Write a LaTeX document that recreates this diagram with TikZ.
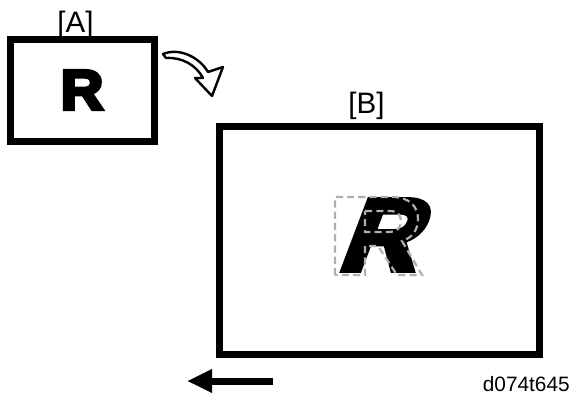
\documentclass[tikz,border=0pt]{standalone}
\usepackage{fontspec}
\setmainfont{Liberation Sans}
\newfontfamily\heavyfont{Liberation Sans}[BoldFeatures={FakeBold=6}]
\usepackage{tikz}
\usetikzlibrary{arrows.meta}
\definecolor{ghostgray}{RGB}{175, 175, 175}

\tikzset{
    framebox/.style={draw=black, line width=0.1875cm, fill=white, inner sep=0pt},
    boxlabel/.style={anchor=base, inner sep=0pt, font=\fontsize{21}{21}\selectfont},
    bigletter/.style={inner sep=0pt, font=\heavyfont\bfseries\fontsize{40}{40}\selectfont},
    ghostline/.style={draw=ghostgray, line width=0.055cm, dash pattern=on 5pt off 3pt}
}

\begin{document}
\begin{tikzpicture}[x=0.025cm, y=-0.025cm]
    \useasboundingbox (0,0) rectangle (573,404);

    % original
    \node[framebox, minimum width=3.6cm, minimum height=2.55cm] (boxA) at (82.5,90.5) {};
    \node[boxlabel] (labelA) at (75.5,32) {[A]};
    \node[bigletter, xscale=1.05] (letterA) at (82,90) {R};

    % turning arrow
    \draw[line width=0.06cm, line join=round, fill=white]
        (163,54) .. controls (180,47) and (200,58) .. (208,72) -- (223,67) -- (212,96)
        -- (195,78) -- (203,78) .. controls (196,65) and (182,57) .. (166,58) -- cycle;

    % copy
    \node[framebox, minimum width=7.99cm, minimum height=5.69cm] (boxB) at (379.5,240.5) {};
    \node[boxlabel] (labelB) at (366.5,113) {[B]};
    \node[bigletter, font=\heavyfont\bfseries\fontsize{72}{72}\selectfont, xscale=1.05, xslant=0.36]
        (letterB) at (388,235) {R};
    \draw[ghostline]
        (335,275) -- (335,197) -- (392,197) .. controls (410,197) and (418,207) .. (418,219)
        .. controls (418,230) and (412,238) .. (402,241) -- (422,275) -- (397,275)
        -- (378,246) -- (365,246) -- (365,275) -- cycle;
    \draw[ghostline]
        (365,211) -- (390,211) .. controls (398,211) and (401,216) .. (401,221)
        .. controls (401,227) and (397,232) .. (390,232) -- (365,232) -- cycle;

    % feed direction
    \coordinate (feedstart) at (273,381);
    \coordinate (feedend) at (187,381);
    \draw[line width=0.175cm, -{Triangle[length=0.625cm, width=0.55cm]}] (feedstart) -- (feedend);

    \node[anchor=base east, inner sep=0pt, font=\fontsize{14.8}{14.8}\selectfont] (code) at (570,391) {d074t645};
\end{tikzpicture}
\end{document}
